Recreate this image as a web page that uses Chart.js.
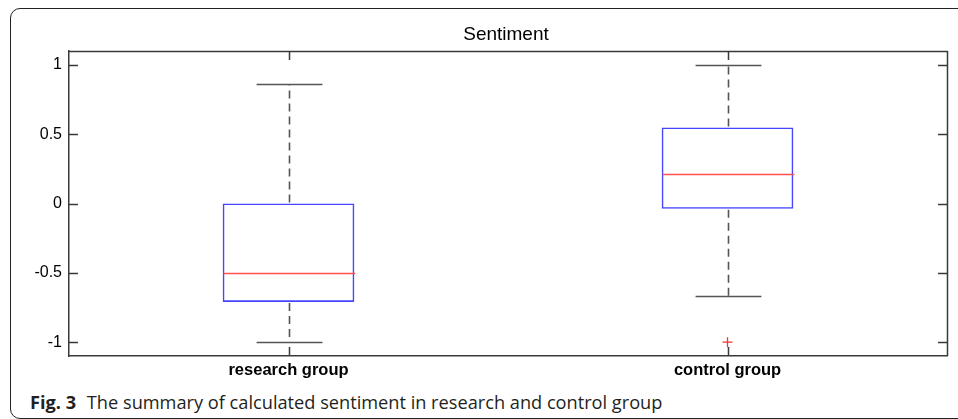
<!DOCTYPE html>
<html>
<head>
<meta charset="utf-8">
<script src="https://cdn.jsdelivr.net/npm/chart.js@4/dist/chart.umd.min.js"></script>
<style>
  html, body { margin: 0; padding: 0; background: #fff; }
  body { width: 958px; height: 419px; position: relative; overflow: hidden; }
  #frame {
    position: absolute; left: 10px; top: 8px; width: 1000px; height: 409px;
    border: 1px solid #222; border-radius: 10px;
  }
  #chart { position: absolute; left: 0; top: 0; }
  #caption {
    position: absolute; left: 30px; top: 390px;
    font-family: "Open Sans", "Noto Sans", sans-serif; font-size: 18.2px;
    line-height: 24px; color: #231f20; white-space: nowrap;
  }
  #caption b { font-weight: 700; margin-right: 6px; }
</style>
</head>
<body>
<div id="frame"></div>
<canvas id="chart" width="958" height="385"></canvas>
<div id="caption"><b>Fig. 3</b> The summary of calculated sentiment in research and control group</div>

<script>
// data
const groups = ['research group', 'control group'];
const whiskerLow = [-1.0, -0.667];
const q1 = [-0.71, -0.038];
const median = [-0.5, 0.215];
const q3 = [0.0, 0.549];
const whiskerHigh = [0.86, 1.0];
const outliers = [null, -1.0];
const yTicks = [-1, -0.5, 0, 0.5, 1];

const axisColor = '#3a3a3a';
const tickLen = 9;

// whiskers, caps, medians, frame and inward ticks
const boxExtras = {
  id: 'boxExtras',
  afterDatasetsDraw(chart) {
    const ctx = chart.ctx;
    const x = chart.scales.x;
    const y = chart.scales.y;
    const a = chart.chartArea;
    const meta = chart.getDatasetMeta(0);

    ctx.save();
    groups.forEach((g, i) => {
      const cx = Math.round(x.getPixelForValue(i)) + 0.5;
      const half = meta.data[i].width / 2;
      const capHalf = half / 2;

      // dashed whiskers
      ctx.strokeStyle = '#555';
      ctx.lineWidth = 1.6;
      ctx.setLineDash([8, 5]);
      ctx.beginPath();
      ctx.moveTo(cx, y.getPixelForValue(q3[i]) - 1);
      ctx.lineTo(cx, y.getPixelForValue(whiskerHigh[i]));
      ctx.moveTo(cx, y.getPixelForValue(q1[i]) + 1);
      ctx.lineTo(cx, y.getPixelForValue(whiskerLow[i]));
      ctx.stroke();
      ctx.setLineDash([]);

      // caps
      ctx.beginPath();
      [whiskerHigh[i], whiskerLow[i]].forEach(v => {
        const py = Math.round(y.getPixelForValue(v)) + 0.5;
        ctx.moveTo(cx - capHalf, py);
        ctx.lineTo(cx + capHalf, py);
      });
      ctx.stroke();
    });

    // medians
    ctx.strokeStyle = 'rgb(255, 80, 80)';
    ctx.lineWidth = 1.6;
    ctx.beginPath();
    groups.forEach((g, i) => {
      const cx = Math.round(x.getPixelForValue(i)) + 0.5;
      const half = meta.data[i].width / 2;
      const my = Math.round(y.getPixelForValue(median[i])) + 0.5;
      ctx.moveTo(cx - half, my);
      ctx.lineTo(cx + half, my);
    });
    ctx.stroke();

    // top and right frame lines
    ctx.strokeStyle = axisColor;
    ctx.lineWidth = 1.5;
    ctx.beginPath();
    ctx.moveTo(a.left, a.top + 0.5);
    ctx.lineTo(a.right + 0.5, a.top + 0.5);
    ctx.lineTo(a.right + 0.5, a.bottom);
    ctx.stroke();

    // inward ticks on all four sides
    ctx.beginPath();
    yTicks.forEach(v => {
      const py = Math.round(y.getPixelForValue(v)) + 0.5;
      ctx.moveTo(a.left, py);
      ctx.lineTo(a.left + tickLen, py);
      ctx.moveTo(a.right, py);
      ctx.lineTo(a.right - tickLen, py);
    });
    groups.forEach((g, i) => {
      const px = Math.round(x.getPixelForValue(i)) + 0.5;
      ctx.moveTo(px, a.bottom);
      ctx.lineTo(px, a.bottom - tickLen);
      ctx.moveTo(px, a.top);
      ctx.lineTo(px, a.top + tickLen);
    });
    ctx.stroke();

    // title
    ctx.fillStyle = '#000';
    ctx.font = '19px "Liberation Sans", Arial, sans-serif';
    ctx.textAlign = 'center';
    ctx.textBaseline = 'alphabetic';
    ctx.fillText('Sentiment', (a.left + a.right) / 2 - 2, 40);
    ctx.restore();
  }
};

new Chart(document.getElementById('chart'), {
  data: {
    labels: groups,
    datasets: [
      {
        type: 'bar',
        data: groups.map((g, i) => [q1[i], q3[i]]),
        backgroundColor: 'rgba(0,0,0,0)',
        borderColor: 'rgb(70, 70, 255)',
        borderWidth: 1.6,
        borderSkipped: false,
        barPercentage: 0.3,
        categoryPercentage: 1
      },
      {
        type: 'line',
        data: outliers,
        showLine: false,
        pointStyle: 'cross',
        pointRadius: 5,
        pointBorderColor: 'rgb(255, 50, 50)',
        pointBorderWidth: 1.3,
        borderColor: 'rgb(255, 50, 50)'
      }
    ]
  },
  options: {
    responsive: false,
    animation: false,
    devicePixelRatio: 1,
    layout: { padding: { top: 51, right: 11, left: 0, bottom: 0 } },
    plugins: {
      legend: { display: false },
      tooltip: { enabled: false },
      title: { display: false }
    },
    scales: {
      x: {
        type: 'category',
        offset: true,
        grid: { display: false, drawTicks: false },
        border: { display: true, color: axisColor, width: 1.5 },
        ticks: {
          color: '#000',
          padding: 5,
          maxRotation: 0,
          font: { family: '"Liberation Sans", Arial, sans-serif', size: 16.5, weight: 'bold' }
        },
        afterFit: s => { s.height = 29; }
      },
      y: {
        type: 'linear',
        min: -1.1,
        max: 1.1,
        grid: { display: false, drawTicks: false },
        border: { display: true, color: axisColor, width: 1.5 },
        afterBuildTicks: s => { s.ticks = yTicks.map(v => ({ value: v })); },
        afterFit: s => { s.width = 69; },
        ticks: {
          color: '#000',
          padding: 7,
          font: { family: '"Liberation Sans", Arial, sans-serif', size: 16 },
          callback: v => String(v)
        }
      }
    }
  },
  plugins: [boxExtras]
});
</script>
</body>
</html>
